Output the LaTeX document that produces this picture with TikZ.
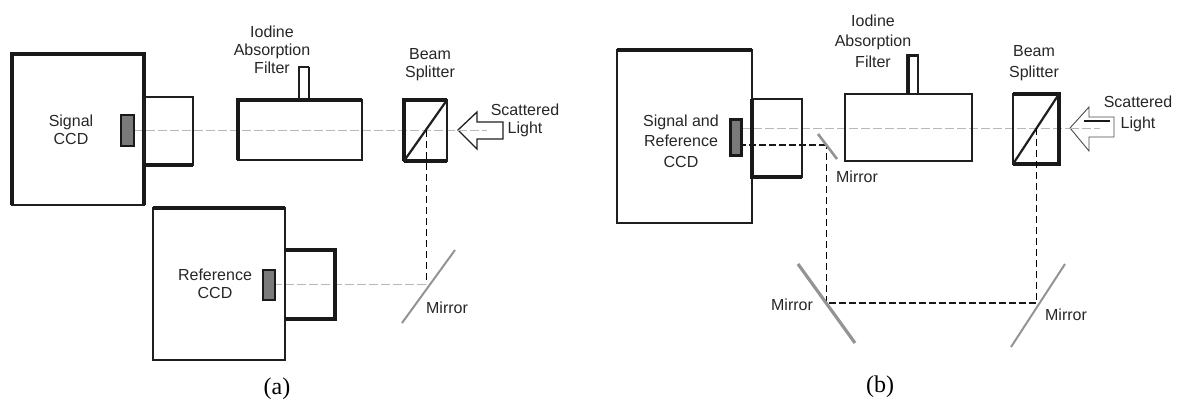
\documentclass[tikz,border=0pt]{standalone}
\usepackage{fontspec}
\setmainfont{Liberation Sans}
\newfontfamily\capfont{Liberation Serif}
\tikzset{
  thin line/.style={draw=black!88, line width=1.3pt},
  thick line/.style={draw=black!90, line width=3.4pt},
  sensor/.style={fill=black!52, draw=black!90, line width=1.8pt},
  mirror/.style={draw=black!42, line width=2pt},
  axis/.style={draw=black!28, line width=.7pt, dash pattern=on 9pt off 3pt},
  fold/.style={draw=black, line width=1pt, dash pattern=on 7pt off 4pt},
  fold thick/.style={draw=black!90, line width=2.8pt, dash pattern=on 7pt off 3pt},
  label/.style={font=\fontsize{16}{18}\selectfont, align=center, text=black!85, inner sep=0pt},
  label wide/.style={font=\fontsize{16}{20.5}\selectfont, align=center, text=black!85, inner sep=0pt},
  caption/.style={font=\capfont\fontsize{24}{26}\selectfont, inner sep=0pt}
}
\begin{document}
\begin{tikzpicture}[x=1pt,y=-1pt]
\useasboundingbox (0,0) rectangle (1177,401);

% (a)
\coordinate (a1) at (134,130);
\coordinate (a2) at (487,130);
\coordinate (a3) at (426,130);
\coordinate (a4) at (426,284);
\coordinate (a5) at (275,284);
\draw[axis] (a1)--(a2);
\draw[thin line] (12,54) rectangle (144,205);
\draw[thick line] (144,205)--(144,54)--(12,54)--(12,205);
\draw[thin line] (144,97) rectangle (193,165);
\draw[thick line] (144,165)--(193,165);
\filldraw[sensor] (121,115) rectangle (134,146);
\draw[thin line] (238,100) rectangle (362,160);
\draw[thick line] (238,160)--(238,100)--(362,100);
\draw[thin line] (299,100)--(299,67)--(309,67);
\draw[thick line, line width=2.6pt] (309,67)--(309,100);
\draw[thin line] (404,100) rectangle (447,161);
\draw[thick line] (404,161)--(404,100)--(447,100);
\draw[thick line] (404,161)--(447,161);
\draw[draw=black!88, line width=2.2pt] (404,161)--(447,100);
\filldraw[thin line, fill=white] (458,130)--(477,112)--(477,122)--(503,122)--(503,139)--(477,139)--(477,149)--cycle;
\draw[axis] (458,130)--(487,130);
\draw[fold] (a3)--(a4);
\draw[axis] (a4)--(a5);
\draw[mirror] (402,323)--(455,250);
\draw[thin line] (153,208) rectangle (285,360);
\draw[thick line] (153,208)--(285,208);
\draw[thin line] (285,250) rectangle (335,319);
\draw[thick line] (285,250)--(335,250)--(335,319)--(285,319);
\filldraw[sensor] (263,270) rectangle (275,300);

\node[label] (signal) at (71,130) {Signal\\CCD};
\node[label] (filter) at (272,50) {Iodine\\Absorption\\Filter};
\node[label] (split) at (430,65) {Beam\\Splitter};
\node[label] (light) at (525,120) {Scattered\\Light};
\node[label] (ref) at (215,284) {Reference\\CCD};
\node[label] (mir) at (447,308) {Mirror};
\node[caption] (capa) at (277,389) {(a)};

% (b)
\coordinate (b1) at (741,128);
\coordinate (b2) at (1100,128);
\coordinate (b3) at (1036,128);
\coordinate (b4) at (1036,303);
\coordinate (b5) at (826,303);
\coordinate (b6) at (826,145);
\coordinate (b7) at (743,145);
\draw[axis] (b1)--(b2);
\draw[thin line] (617,50) rectangle (752,223);
\draw[thick line] (617,50)--(752,50);
\draw[thin line] (752,99) rectangle (802,177);
\draw[thick line] (752,99)--(752,177)--(802,177);
\filldraw[sensor, line width=3pt] (730,120) rectangle (741,155);
\draw[thin line] (845,94) rectangle (972,161);
\draw[thin line] (907,94)--(907,55)--(918,55)--(918,94);
\draw[thick line, line width=3pt] (908,94)--(908,56)--(917,56);
\draw[thin line] (1013,94) rectangle (1059,164);
\draw[thick line] (1013,94)--(1059,94)--(1059,164)--(1013,164);
\draw[draw=black!88, line width=2.2pt] (1013,164)--(1059,94);
\filldraw[draw=black!70, line width=.9pt, fill=white] (1070,128)--(1089,107)--(1089,117)--(1114,117)--(1114,137)--(1089,137)--(1089,151)--cycle;
\draw[thick line, line width=2.8pt] (1084,121)--(1110,121);
\draw[axis] (1070,128)--(1100,128);
\draw[fold] (b3)--(b4);
\draw[fold thick] (b4)--(b5);
\draw[fold] (b5)--(b6);
\draw[fold thick] (b6)--(b7);
\draw[mirror, line width=2.6pt] (818,134)--(837,159);
\draw[mirror, line width=3.2pt] (798,264)--(855,343);
\draw[mirror] (1011,347)--(1065,264);

\node[label wide] (both) at (681,141) {Signal and\\Reference\\CCD};
\node[label wide] (filterb) at (873,41) {Iodine\\Absorption\\Filter};
\node[label wide] (splitb) at (1034,63) {Beam\\Splitter};
\node[label wide] (lightb) at (1138,114) {Scattered\\Light};
\node[label] (mirb) at (857,177) {Mirror};
\node[label] (mirc) at (792,305) {Mirror};
\node[label] (mird) at (1066,315) {Mirror};
\node[caption] (capb) at (880,387) {(b)};

\end{tikzpicture}
\end{document}
